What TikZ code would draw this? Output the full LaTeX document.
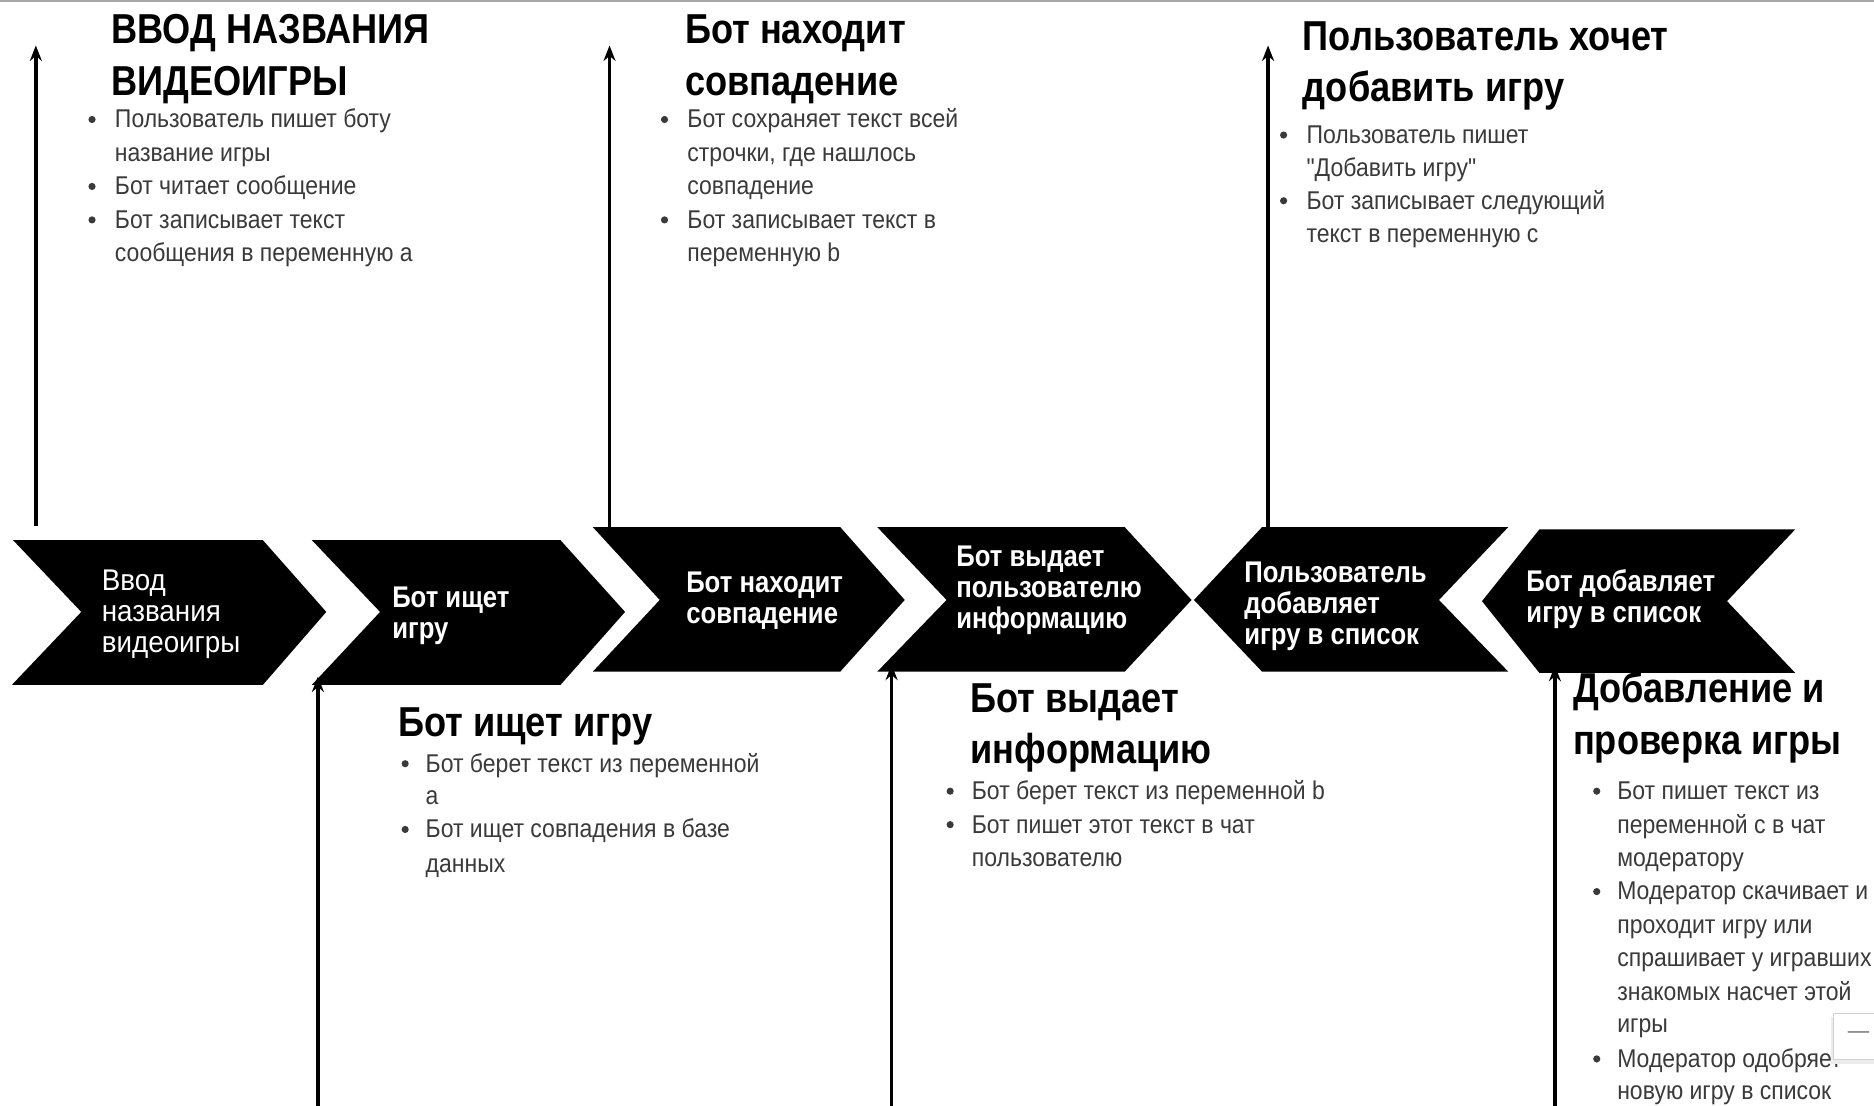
\documentclass[tikz,border=0pt]{standalone}
\usepackage{fontspec}
\setmainfont{Liberation Sans}
\newfontfamily\bodyf{Liberation Sans}[FakeStretch=0.895]
\newfontfamily\headf{Liberation Sans}[FakeStretch=0.865]
\newfontfamily\chevf{Liberation Sans}[FakeStretch=0.86]
\newfontfamily\chevrf{Liberation Sans}[FakeStretch=0.93]
\usetikzlibrary{arrows.meta}
\definecolor{bodygray}{HTML}{3A3A3A}
\begin{document}
\begin{tikzpicture}[x=1pt,y=-1pt,
  body/.style={anchor=base west,inner sep=0pt,text=bodygray,font=\bodyf\fontsize{21.5}{26}\selectfont},
  ttl/.style={anchor=base west,inner sep=0pt,text=black,font=\headf\bfseries\fontsize{35}{40}\selectfont},
  chb/.style={anchor=base west,inner sep=0pt,text=white,font=\chevf\bfseries\fontsize{25}{26}\selectfont},
  chr/.style={anchor=base west,inner sep=0pt,text=white,font=\chevrf\fontsize{25}{26}\selectfont},
  dot/.style={circle,fill=bodygray,inner sep=0pt,minimum size=6pt},
  chevron/.style={fill=black},
  arr/.style={line width=2.8pt,-{Stealth[length=13pt,width=10pt]}},
]
\useasboundingbox[fill=white] (0,0) rectangle (1568,925);
\draw[gray!70,line width=1.5pt] (0,0.75) -- (1568,0.75);

% ---------- text blocks ----------
% block 1
\node[ttl] (t1a) at (93,36) {ВВОД НАЗВАНИЯ};
\node[ttl] (t1b) at (93,80) {ВИДЕОИГРЫ};
\node[dot] (d1a) at (77,100) {};
\node[body] (b1a) at (96,107) {Пользователь пишет боту};
\node[body] (b1b) at (96,135) {название игры};
\node[dot] (d1b) at (77,156) {};
\node[body] (b1c) at (96,163) {Бот читает сообщение};
\node[dot] (d1c) at (77,184) {};
\node[body] (b1d) at (96,191) {Бот записывает текст};
\node[body] (b1e) at (96,219) {сообщения в переменную а};

% block 2
\node[ttl] (t2a) at (573,36) {Бот находит};
\node[ttl] (t2b) at (573,80) {совпадение};
\node[dot] (d2a) at (556,100) {};
\node[body] (b2a) at (575,107) {Бот сохраняет текст всей};
\node[body] (b2b) at (575,135) {строчки, где нашлось};
\node[body] (b2c) at (575,163) {совпадение};
\node[dot] (d2b) at (556,184) {};
\node[body] (b2d) at (575,191) {Бот записывает текст в};
\node[body] (b2e) at (575,219) {переменную b};

% block 3
\node[ttl] (t3a) at (1090,42) {Пользователь хочет};
\node[ttl] (t3b) at (1090,85) {добавить игру};
\node[dot] (d3a) at (1074,113) {};
\node[body] (b3a) at (1093,120) {Пользователь пишет};
\node[body] (b3b) at (1093,148) {"Добавить игру"};
\node[dot] (d3b) at (1074,168) {};
\node[body] (b3c) at (1093,175) {Бот записывает следующий};
\node[body] (b3d) at (1093,203) {текст в переменную с};

% block 4
\node[ttl] (t4a) at (333,616) {Бот ищет игру};
\node[dot] (d4a) at (339,639) {};
\node[body] (b4a) at (356,646) {Бот берет текст из переменной};
\node[body] (b4b) at (356,673) {а};
\node[dot] (d4b) at (339,694) {};
\node[body] (b4c) at (356,701) {Бот ищет совпадения в базе};
\node[body] (b4d) at (356,730) {данных};

% block 5
\node[ttl] (t5a) at (812,596) {Бот выдает};
\node[ttl] (t5b) at (812,639) {информацию};
\node[dot] (d5a) at (795,662) {};
\node[body] (b5a) at (813,669) {Бот берет текст из переменной b};
\node[dot] (d5b) at (795,690) {};
\node[body] (b5b) at (813,697) {Бот пишет этот текст в чат};
\node[body] (b5c) at (813,725) {пользователю};

% block 6
\node[ttl] (t6a) at (1316,588) {Добавление и};
\node[ttl] (t6b) at (1316,631) {проверка игры};
\node[dot] (d6a) at (1336,662) {};
\node[body] (b6a) at (1353,669) {Бот пишет текст из};
\node[body] (b6b) at (1353,697) {переменной с в чат};
\node[body] (b6c) at (1353,725) {модератору};
\node[dot] (d6b) at (1336,746) {};
\node[body] (b6d) at (1353,753) {Модератор скачивает и};
\node[body] (b6e) at (1353,781) {проходит игру или};
\node[body] (b6f) at (1353,809) {спрашивает у игравших};
\node[body] (b6g) at (1353,837) {знакомых насчет этой};
\node[body] (b6h) at (1353,864) {игры};
\node[dot] (d6c) at (1336,886) {};
\node[body] (b6i) at (1353,893) {Модератор одобряет};
\node[body] (b6j) at (1353,920) {новую игру в список};

% ---------- connectors ----------
\coordinate (u1s) at (30,440);   \coordinate (u1e) at (30,38);
\coordinate (u2s) at (510,441);  \coordinate (u2e) at (510,38);
\coordinate (u3s) at (1061,441); \coordinate (u3e) at (1061,38);
\coordinate (l1s) at (266,930);  \coordinate (l1e) at (266,566);
\coordinate (l2s) at (746,930);  \coordinate (l2e) at (746,556);
\coordinate (l3s) at (1301,930); \coordinate (l3e) at (1301,557);
\draw[arr] (u1s) -- (u1e);
\draw[arr] (u2s) -- (u2e);
\draw[arr] (u3s) -- (u3e);
\draw[arr] (l1s) -- (l1e);
\draw[arr] (l2s) -- (l2e);
\draw[arr] (l3s) -- (l3e);

% ---------- chevrons ----------
\fill[chevron] (11,452) -- (220,452) -- (273,512) -- (220,573) -- (10,573) -- (68,512) -- cycle;
\fill[chevron] (261,452) -- (469,452) -- (523,512) -- (469,573) -- (261,573) -- (318,512) -- cycle;
\fill[chevron] (496,441) -- (703,441) -- (757,502) -- (703,562) -- (496,562) -- (552,502) -- cycle;
\fill[chevron] (734,441) -- (941,441) -- (997,502) -- (941,562) -- (734,562) -- (792,502) -- cycle;
\fill[chevron] (999,502) -- (1056,441) -- (1262,441) -- (1204,502) -- (1262,562) -- (1056,562) -- cycle;
\fill[chevron] (1240,503) -- (1288,443) -- (1502,443) -- (1445,503) -- (1502,563) -- (1288,563) -- cycle;

\node[chr] (c1a) at (85,494) {Ввод};
\node[chr] (c1b) at (85,520) {названия};
\node[chr] (c1c) at (85,546) {видеоигры};
\node[chb] (c2a) at (328,508) {Бот ищет};
\node[chb] (c2b) at (328,534) {игру};
\node[chb] (c3a) at (574,496) {Бот находит};
\node[chb] (c3b) at (574,522) {совпадение};
\node[chb] (c4a) at (800,474) {Бот выдает};
\node[chb] (c4b) at (800,500) {пользователю};
\node[chb] (c4c) at (800,526) {информацию};
\node[chb] (c5a) at (1041,487) {Пользователь};
\node[chb] (c5b) at (1041,513) {добавляет};
\node[chb] (c5c) at (1041,539) {игру в список};
\node[chb] (c6a) at (1277,495) {Бот добавляет};
\node[chb] (c6b) at (1277,521) {игру в список};

% ---------- zoom widget ----------
\fill[gray!15] (1532,851) rectangle (1580,890);
\node[draw=gray!35,fill=white,line width=0.8pt,minimum width=46pt,minimum height=38pt,anchor=north west,inner sep=0pt] (ui) at (1534,848) {};
\node[text=gray,font=\bodyf\fontsize{20}{20}\selectfont] (uidash) at (1555,866) {—};
\end{tikzpicture}
\end{document}
